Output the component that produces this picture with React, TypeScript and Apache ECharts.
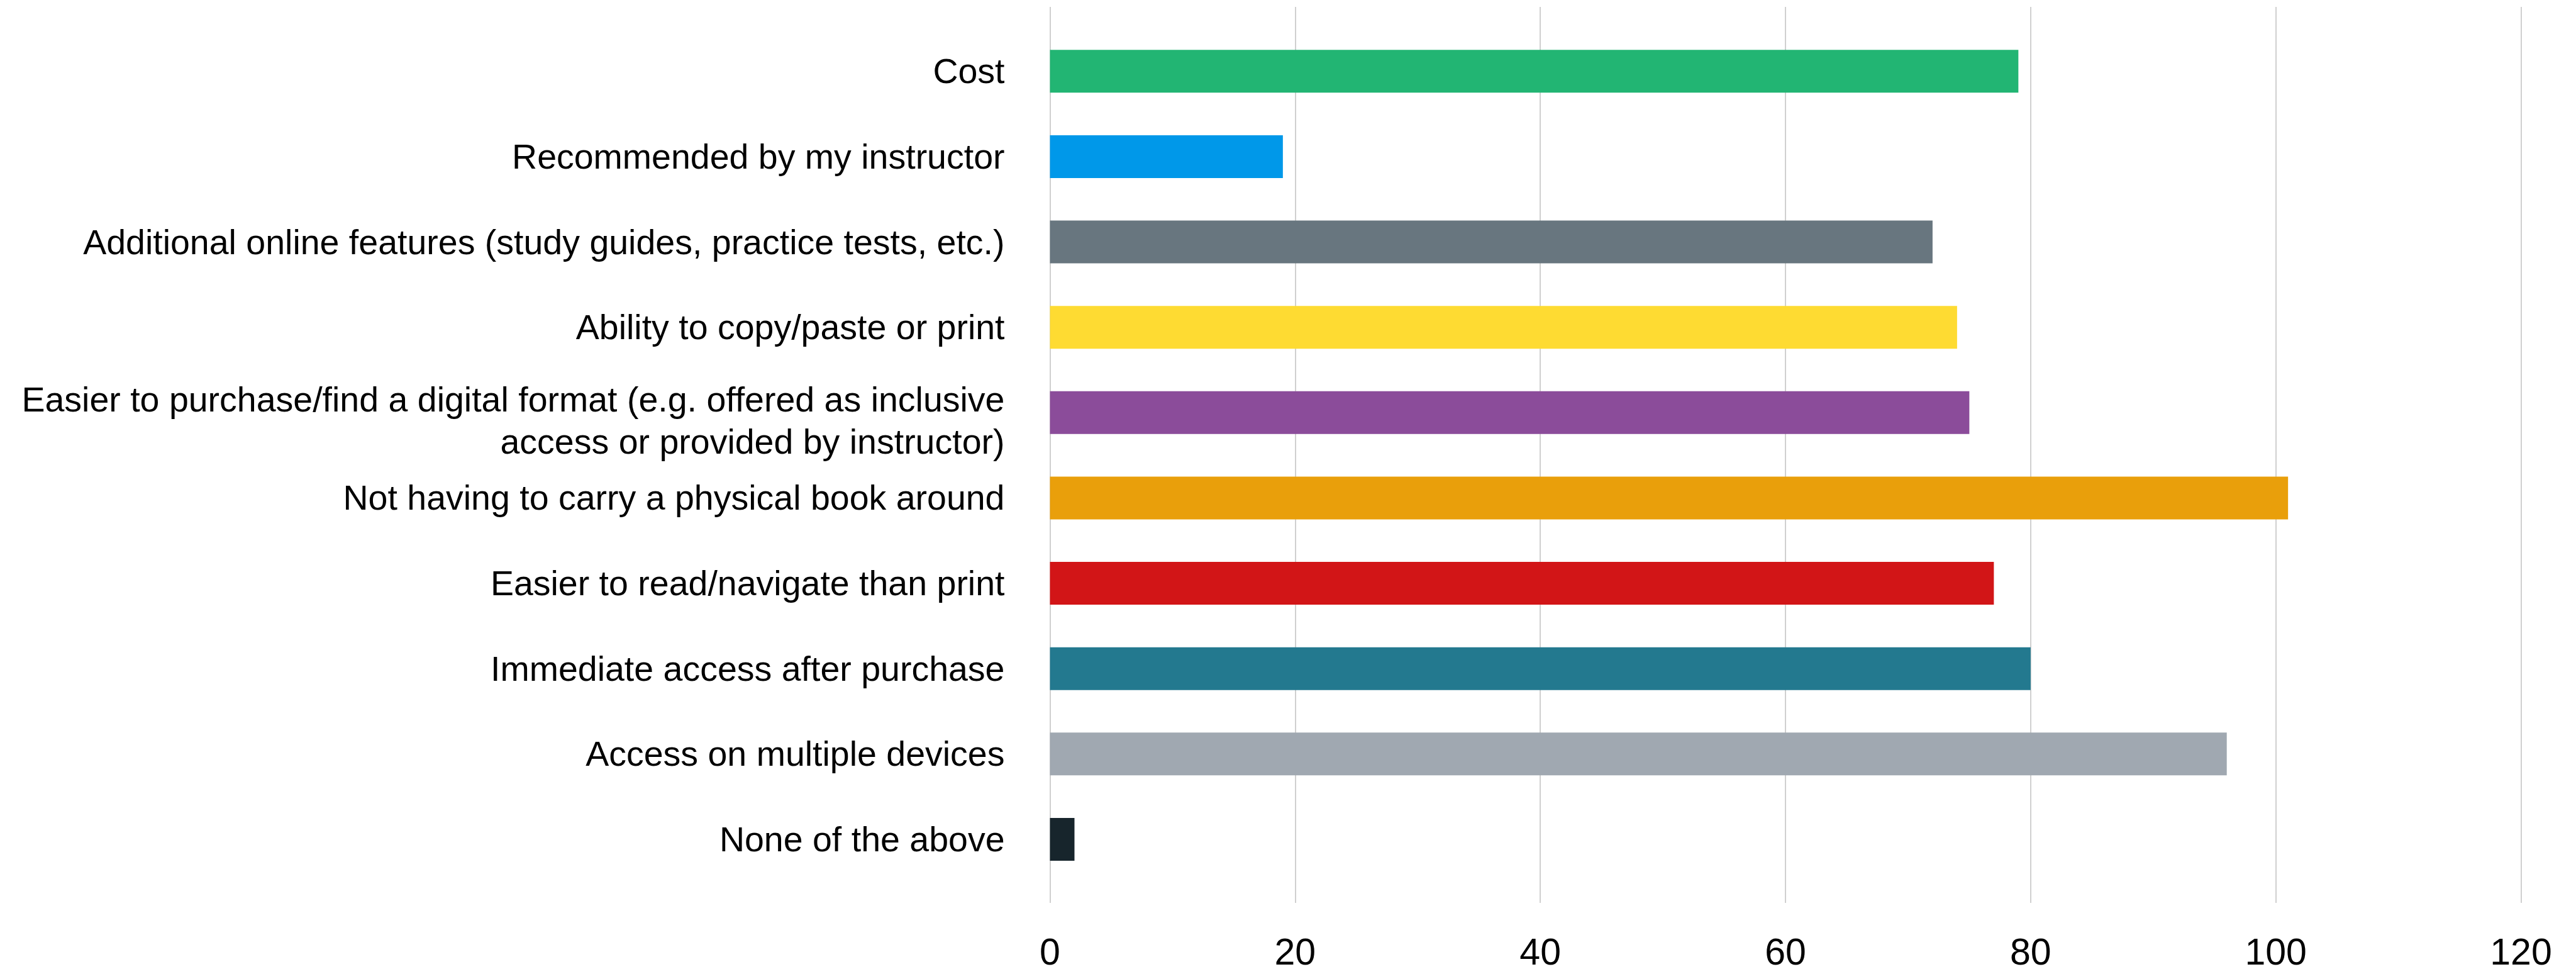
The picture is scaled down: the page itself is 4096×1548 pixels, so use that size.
import React, { useEffect, useRef } from "react";
import * as echarts from "echarts";

// Survey: reasons for preferring a digital textbook
const categories: string[] = [
  "Cost",
  "Recommended by my instructor",
  "Additional online features (study guides, practice tests, etc.)",
  "Ability to copy/paste or print",
  "Easier to purchase/find a digital format (e.g. offered as inclusive\naccess or provided by instructor)",
  "Not having to carry a physical book around",
  "Easier to read/navigate than print",
  "Immediate access after purchase",
  "Access on multiple devices",
  "None of the above",
];

const responses: number[] = [79, 19, 72, 74, 75, 101, 77, 80, 96, 2];

const barColors: string[] = [
  "#22b573",
  "#0098e9",
  "#68767f",
  "#fedb32",
  "#8b4c9a",
  "#e99f0b",
  "#d21517",
  "#23798f",
  "#a0a8b1",
  "#17252c",
];

const xTicks = { min: 0, max: 120, interval: 20 };

const FONT = "'Liberation Sans', Arial, Helvetica, sans-serif";
const LABEL_SIZE = 55.5;
const LABEL_LINE = 66.7;

export default function App() {
  const ref = useRef<HTMLDivElement | null>(null);

  useEffect(() => {
    if (!ref.current) return;
    const chart = echarts.init(ref.current, undefined, { renderer: "svg" });

    const plotLeft = 1669.5;
    const plotRight = 87.5;

    chart.setOption({
      animation: false,
      backgroundColor: "#ffffff",
      grid: [
        // gridlines + value labels
        { left: plotLeft, right: plotRight, top: 11, bottom: 113, containLabel: false },
        // bars + category labels
        { left: plotLeft, right: plotRight, top: 45.5, bottom: 146.3, containLabel: false },
      ],
      xAxis: [
        {
          type: "value",
          gridIndex: 0,
          min: xTicks.min,
          max: xTicks.max,
          interval: xTicks.interval,
          axisLine: { show: false },
          axisTick: { show: false },
          splitLine: { show: true, lineStyle: { color: "#c8c8c8", width: 1.7 } },
          axisLabel: {
            show: true,
            margin: 52.5,
            fontFamily: FONT,
            fontSize: 59,
            color: "#000000",
            verticalAlign: "top",
            lineHeight: 50,
          },
        },
        {
          type: "value",
          gridIndex: 1,
          min: xTicks.min,
          max: xTicks.max,
          interval: xTicks.interval,
          show: false,
        },
      ],
      yAxis: [
        { type: "value", gridIndex: 0, show: false },
        {
          type: "category",
          gridIndex: 1,
          data: categories,
          inverse: true,
          axisLine: { show: false },
          axisTick: { show: false },
          splitLine: { show: false },
          axisLabel: {
            margin: 72,
            fontFamily: FONT,
            fontSize: LABEL_SIZE,
            lineHeight: LABEL_LINE,
            color: "#000000",
            align: "right",
            // two-line labels sit a little below their bar's centre
            formatter: (value: string) =>
              value.includes("\n")
                ? "{gap| }\n" + value.split("\n").map((l) => `{t|${l}}`).join("\n")
                : value,
            rich: {
              gap: { fontSize: 1, lineHeight: 26 },
              t: {
                fontFamily: FONT,
                fontSize: LABEL_SIZE,
                lineHeight: LABEL_LINE,
                color: "#000000",
                align: "right",
              },
            },
          },
        },
      ],
      series: [
        {
          type: "bar",
          xAxisIndex: 1,
          yAxisIndex: 1,
          barWidth: 68,
          data: responses.map((v, i) => ({
            value: v,
            itemStyle: { color: barColors[i] },
          })),
        },
      ],
    });

    return () => chart.dispose();
  }, []);

  return (
    <div
      ref={ref}
      style={{ position: "fixed", left: 0, top: 0, width: 4096, height: 1548, background: "#fff" }}
    />
  );
}
